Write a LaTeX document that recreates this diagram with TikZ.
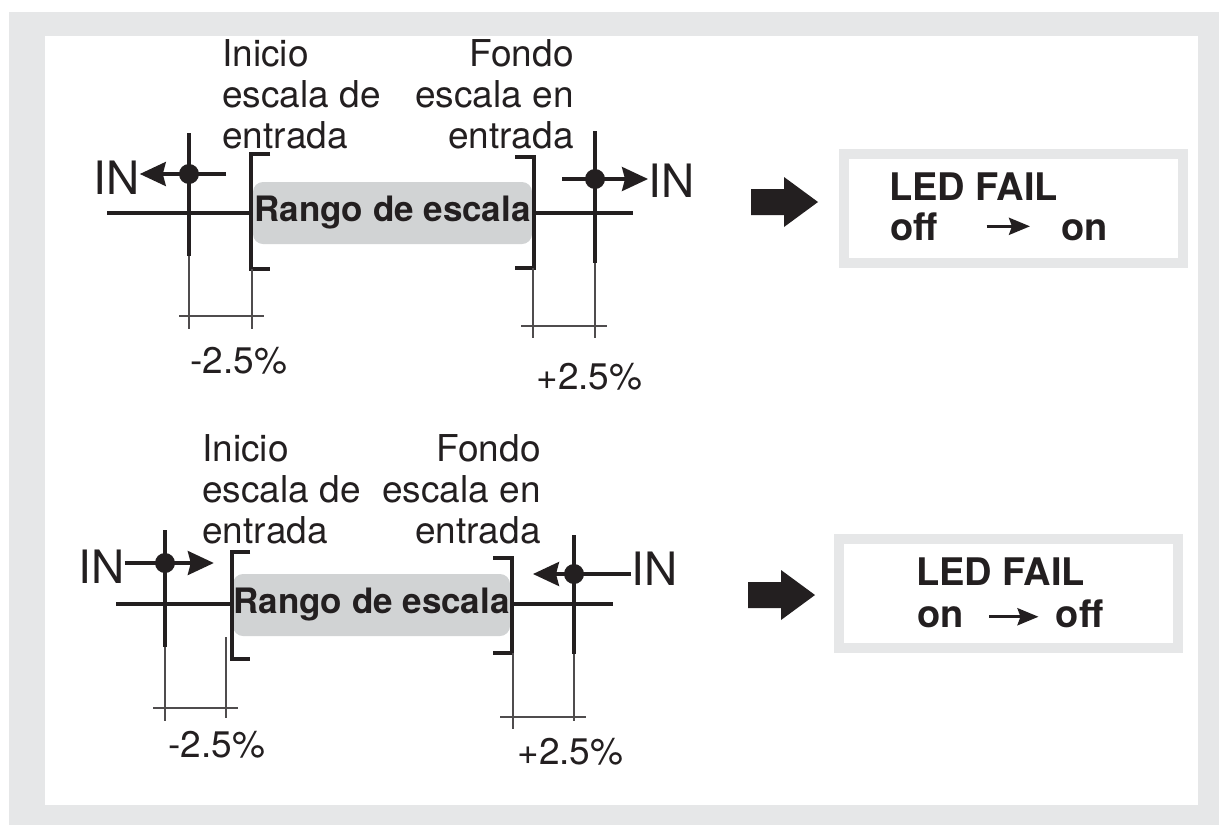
\documentclass[tikz,border=0pt]{standalone}
\usepackage{fontspec}
\setmainfont{TeX Gyre Heros}
\usetikzlibrary{arrows.meta}
\definecolor{ink}{HTML}{231F20}
\definecolor{framegray}{HTML}{E6E7E8}
\definecolor{boxgray}{HTML}{D1D3D4}
\tikzset{
  heavy/.style={draw=ink, line width=1.6pt},
  hair/.style={draw=ink!80, line width=0.55pt},
  inarrow/.style={heavy, -{Stealth[length=13pt, width=12pt, inset=1.5pt]}},
  ledarrow/.style={heavy, line width=1.6pt, -{Stealth[length=10.5pt, width=8.5pt, inset=1.5pt]}},
  dot/.style={circle, fill=ink, inner sep=0pt, minimum size=10pt},
  lbl/.style={font=\fontsize{18.5}{20.5}\selectfont, text=ink, inner sep=0pt},
  inlbl/.style={font=\fontsize{23}{27}\selectfont, text=ink, inner sep=0pt, anchor=base west},
  rango/.style={fill=boxgray, rounded corners=5pt, inner sep=0pt, text=ink, minimum height=31pt, font=\fontsize{17.5}{20}\selectfont\bfseries},
  led/.style={draw=framegray, line width=5pt, fill=white, minimum width=169.5pt, minimum height=54.5pt},
  ledtxt/.style={font=\fontsize{19}{21}\selectfont\bfseries, text=ink, inner sep=0pt, anchor=base west},
  bigarrow/.pic={\fill[ink] (0,-13) -- (33,-13) -- (33,-25) -- (67,0) -- (33,25) -- (33,13) -- (0,13) -- cycle;}
}
\begin{document}
\begin{tikzpicture}[x=0.5pt, y=-0.5pt]
  \useasboundingbox (0,0) rectangle (1219,825);
  \fill[framegray] (9,12) rectangle (1219,825);
  \fill[white] (45,36) rectangle (1198,805);

  % upper case: off -> on
  \node[lbl, align=left, anchor=base west] (ini1) at (222,148) {Inicio\\escala de\\entrada};
  \node[lbl, align=right, anchor=base east] (fon1) at (574,148) {Fondo\\escala en\\entrada};
  \node[rango, minimum width=139.5pt] (rng1) at (392.5,213) {Rango de escala};
  \node[inlbl] (inL1) at (93,194) {IN};
  \node[inlbl] (inR1) at (648,197) {IN};
  \node[dot] (dl1) at (189,174) {};
  \node[dot] (dr1) at (595,179) {};
  \coordinate (a1) at (107,213);
  \coordinate (bl1) at (251,213);
  \coordinate (br1) at (534,213);
  \coordinate (b1) at (633,213);

  \draw[heavy] (a1) -- (bl1) (br1) -- (b1);
  \draw[heavy] (bl1) ++(19,-59) -- ++(-19,0) -- ++(0,115) -- ++(19,0);
  \draw[heavy] (br1) ++(-19,-56) -- ++(19,0) -- ++(0,111) -- ++(-19,0);
  \draw[heavy] (dl1) ++(0,-41) -- ++(0,123);
  \draw[heavy] (dr1) ++(0,-48) -- ++(0,132);
  \draw[inarrow] (dl1) ++(37,0) -- (dl1 -| inL1.east);
  \draw[inarrow] (dr1) ++(-33,0) -- (dr1 -| inR1.west);

  \draw[hair] (dl1) ++(0,82) -- ++(0,73);
  \draw[hair] (bl1) ++(1,56) -- ++(0,60);
  \draw[hair] (dl1) ++(-10,142) -- ++(85,0);
  \draw[hair] (br1) ++(-1,55) -- ++(0,70);
  \draw[hair] (dr1) ++(0,84) -- ++(0,75);
  \draw[hair] (dr1) ++(-74,147) -- ++(86,0);
  \node[lbl, anchor=base west] (m1) at (190,373) {-2.5\%};
  \node[lbl, anchor=base west] (p1) at (536,389) {+2.5\%};

  \pic at (751,202) {bigarrow};
  \node[led] (led1) at (1013.5,208.5) {};
  \node[ledtxt] (fail1) at (889,200) {LED FAIL};
  \node[ledtxt] (off1) at (890,240) {off};
  \node[ledtxt] (on1) at (1061,240) {on};
  \draw[ledarrow, shorten <=24.25pt, shorten >=15.5pt] (off1.east) -- (off1.east -| on1.west);

  % lower case: on -> off
  \node[lbl, align=left, anchor=base west] (ini2) at (202,543) {Inicio\\escala de\\entrada};
  \node[lbl, align=right, anchor=base east] (fon2) at (541,543) {Fondo\\escala en\\entrada};
  \node[rango, minimum width=138.5pt] (rng2) at (371.5,605) {Rango de escala};
  \node[inlbl] (inL2) at (78,583) {IN};
  \node[inlbl] (inR2) at (631,585) {IN};
  \node[dot] (dl2) at (165,563) {};
  \node[dot] (dr2) at (574,574) {};
  \coordinate (a2) at (116,604);
  \coordinate (bl2) at (232,604);
  \coordinate (br2) at (512,604);
  \coordinate (b2) at (613,604);

  \draw[heavy] (a2) -- (bl2) (br2) -- (b2);
  \draw[heavy] (bl2) ++(18,-52) -- ++(-18,0) -- ++(0,107) -- ++(18,0);
  \draw[heavy] (br2) ++(-19,-46) -- ++(19,0) -- ++(0,95) -- ++(-19,0);
  \draw[heavy] (dl2) ++(0,-33) -- ++(0,117);
  \draw[heavy] (dr2) ++(0,-39) -- ++(0,119);
  \draw[inarrow] (dl2 -| inL2.east) -- ++(89,0);
  \draw[inarrow] (dr2 -| inR2.west) -- ++(-98,0);

  \draw[hair] (dl2) ++(0,84) -- ++(0,74);
  \draw[hair] (bl2) ++(-6,33) -- ++(0,81);
  \draw[hair] (dl2) ++(-12,145) -- ++(85,0);
  \draw[hair] (br2) ++(1,49) -- ++(0,76);
  \draw[hair] (dr2) ++(0,80) -- ++(0,67);
  \draw[hair] (dr2) ++(-74,143) -- ++(86,0);
  \node[lbl, anchor=base west] (m2) at (168,757) {-2.5\%};
  \node[lbl, anchor=base west] (p2) at (517,764) {+2.5\%};

  \pic at (748,595) {bigarrow};
  \node[led] (led2) at (1008.5,593.5) {};
  \node[ledtxt] (fail2) at (916,585) {LED FAIL};
  \node[ledtxt] (on2) at (917,627) {on};
  \node[ledtxt] (off2) at (1055.5,627) {off};
  \draw[ledarrow, shorten <=12.5pt, shorten >=8.5pt] (on2.east) -- (on2.east -| off2.west);
\end{tikzpicture}
\end{document}
